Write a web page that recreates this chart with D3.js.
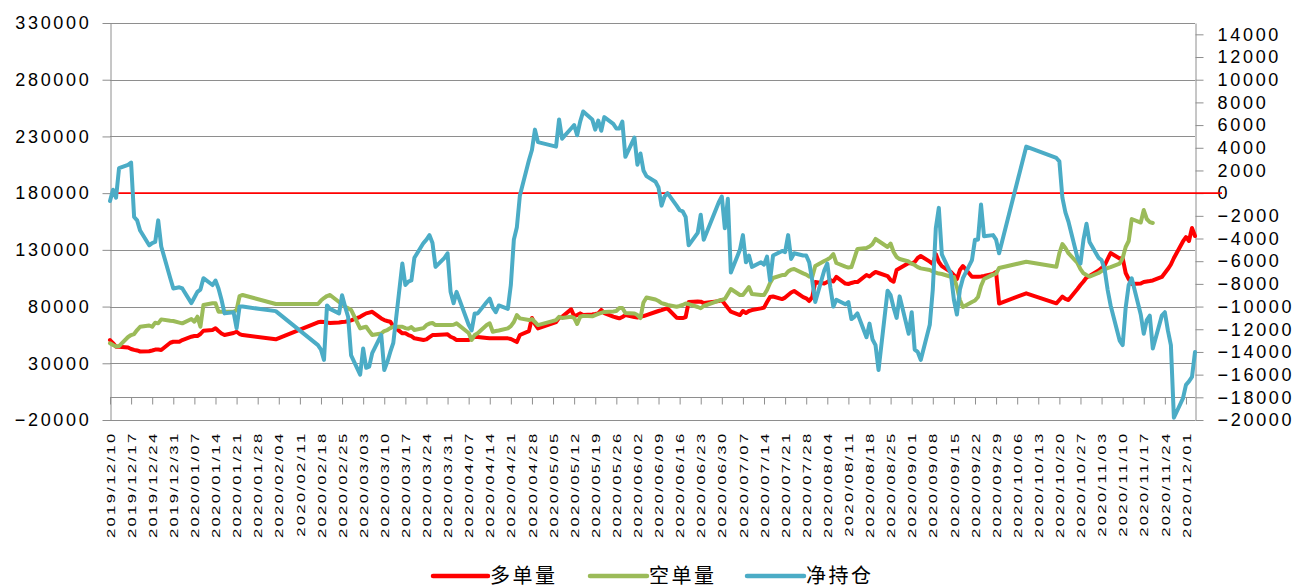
<!DOCTYPE html>
<html>
<head>
<meta charset="utf-8">
<script src="https://cdn.jsdelivr.net/npm/d3@7"></script>
<style>
  html, body { margin: 0; padding: 0; background: #fff; }
  svg { display: block; }
</style>
</head>
<body>
<svg id="chart" width="1296" height="588"></svg>
<script>
// trading days shown in the chart (gaps = no data: Spring Festival, Labour Day, National Day ...)
const dates = [
  "2019-12-10","2019-12-11","2019-12-12","2019-12-13","2019-12-16","2019-12-17","2019-12-18","2019-12-19","2019-12-20","2019-12-23","2019-12-24","2019-12-25","2019-12-26","2019-12-27","2019-12-30","2019-12-31",
  "2020-01-02","2020-01-03","2020-01-06","2020-01-07","2020-01-08","2020-01-09","2020-01-10","2020-01-13","2020-01-14","2020-01-15","2020-01-16","2020-01-17","2020-01-20","2020-01-21","2020-01-22","2020-01-23",
  "2020-02-03","2020-02-17","2020-02-18","2020-02-19","2020-02-20","2020-02-21","2020-02-24","2020-02-25","2020-02-26","2020-02-27","2020-02-28",
  "2020-03-02","2020-03-03","2020-03-04","2020-03-05","2020-03-06","2020-03-09","2020-03-10","2020-03-11","2020-03-12","2020-03-13","2020-03-16","2020-03-17","2020-03-18","2020-03-19","2020-03-20","2020-03-23","2020-03-24","2020-03-25","2020-03-26","2020-03-27","2020-03-30","2020-03-31",
  "2020-04-01","2020-04-02","2020-04-03","2020-04-07","2020-04-08","2020-04-09","2020-04-10","2020-04-13","2020-04-14","2020-04-15","2020-04-16","2020-04-17","2020-04-20","2020-04-21","2020-04-22","2020-04-23","2020-04-24","2020-04-27","2020-04-28","2020-04-29","2020-04-30",
  "2020-05-06","2020-05-07","2020-05-08","2020-05-11","2020-05-12","2020-05-13","2020-05-14","2020-05-15","2020-05-18","2020-05-19","2020-05-20","2020-05-21","2020-05-22","2020-05-25","2020-05-26","2020-05-27","2020-05-28","2020-05-29",
  "2020-06-01","2020-06-02","2020-06-03","2020-06-04","2020-06-05","2020-06-08","2020-06-09","2020-06-10","2020-06-11","2020-06-12","2020-06-15","2020-06-16","2020-06-17","2020-06-18","2020-06-19","2020-06-22","2020-06-23","2020-06-24","2020-06-29","2020-06-30",
  "2020-07-01","2020-07-02","2020-07-03","2020-07-06","2020-07-07","2020-07-08","2020-07-09","2020-07-10","2020-07-13","2020-07-14","2020-07-15","2020-07-16","2020-07-17","2020-07-20","2020-07-21","2020-07-22","2020-07-23","2020-07-24","2020-07-27","2020-07-28","2020-07-29","2020-07-30","2020-07-31",
  "2020-08-03","2020-08-04","2020-08-05","2020-08-06","2020-08-07","2020-08-10","2020-08-11","2020-08-12","2020-08-13","2020-08-14","2020-08-17","2020-08-18","2020-08-19","2020-08-20","2020-08-21","2020-08-24","2020-08-25","2020-08-26","2020-08-27","2020-08-28","2020-08-31",
  "2020-09-01","2020-09-02","2020-09-03","2020-09-04","2020-09-07","2020-09-08","2020-09-09","2020-09-10","2020-09-11","2020-09-14","2020-09-15","2020-09-16","2020-09-17","2020-09-18","2020-09-21","2020-09-22","2020-09-23","2020-09-24","2020-09-25","2020-09-28","2020-09-29","2020-09-30",
  "2020-10-09","2020-10-19","2020-10-20","2020-10-21","2020-10-22","2020-10-23","2020-10-26","2020-10-27","2020-10-28","2020-10-29","2020-10-30",
  "2020-11-02","2020-11-03","2020-11-04","2020-11-05","2020-11-06","2020-11-09","2020-11-10","2020-11-11","2020-11-12","2020-11-13","2020-11-16","2020-11-17","2020-11-18","2020-11-19","2020-11-20","2020-11-23","2020-11-24","2020-11-25","2020-11-26","2020-11-27","2020-11-30",
  "2020-12-01","2020-12-02","2020-12-03","2020-12-04"
];

// 多单量 (left axis)
const longs = [
  50500,47800,44600,44600,43900,42600,41800,41300,40400,40600,41300,42100,42100,41700,48100,49000,
  49000,50500,53400,54000,54000,55800,58700,59300,60800,58400,56200,54900,56700,57800,55800,54900,
  51100,66100,66600,66400,65900,65500,65900,66400,66600,67100,67800,
  71000,72500,74000,74700,75400,69500,68100,67300,66600,62800,56400,56400,54900,54000,52000,50500,51100,53100,54900,54900,55400,55500,
  53400,52300,50500,50500,51800,53400,53100,52300,52000,52000,52000,52000,52000,51400,50100,48700,54900,58400,70000,64600,60800,
  66400,70000,70900,77600,71600,72500,74000,72500,73000,73400,74000,77000,74300,71100,70400,69600,70800,72500,
  70800,70400,71100,71600,72500,75200,76100,76900,77800,78300,70200,69900,69900,70800,84000,84400,84300,83100,84800,85800,
  82200,78700,75500,72500,76100,74300,76100,76900,78400,79100,84000,88400,88900,86600,87900,90200,92400,93700,88400,87300,84900,88400,101600,
  100300,101600,103400,102100,106100,100300,99900,100800,101600,101600,107800,106500,108700,110500,109600,106900,103400,101900,112200,113700,118400,
  118100,119300,122800,124600,119600,117500,126300,119300,115700,110500,107800,104300,112200,115700,106300,106300,106300,106500,106900,108700,110500,82700,
  91700,82900,85800,88700,86700,85800,95500,99000,102100,105600,106900,
  111800,114000,116200,121900,127200,122400,122800,109600,104300,99900,100300,101600,102100,102500,103000,106100,109600,113100,117100,122800,137400,
  141300,137800,149300,142200
];

// 空单量 (left axis)
const shorts = [
  47600,46100,44800,45200,53200,54900,55800,59300,62200,63300,62200,65800,65200,68700,67500,67300,
  65900,65200,69000,66700,71100,62200,81400,82900,82900,75500,75500,75500,75500,77000,89300,90200,
  82300,82300,85300,87500,89300,90200,84000,82900,79900,78500,77000,
  60800,61500,62200,58400,54900,56200,58400,59300,61000,62200,62200,61000,60500,61900,59300,61000,63700,65000,65500,63700,63700,63700,
  63700,64000,65200,56700,50500,54900,56400,63700,65200,57800,58400,58900,60800,62800,66400,72500,69600,68100,69000,66400,63700,
  68100,71000,70000,71000,70100,64600,71000,71800,71400,72500,73600,74500,75300,75700,76100,78700,78700,74300,
  74000,72500,69800,83600,88000,86200,84900,83100,82300,81400,79900,80500,81400,82700,82200,79600,78500,80500,85300,85800,
  86700,91000,95500,90200,90200,93700,97200,91000,90200,90200,94600,100800,105200,107800,107800,110900,112600,113100,109300,108200,106500,106000,115700,
  120200,121500,123200,126300,118400,115200,114400,114800,122800,130800,131600,133000,135100,139600,137800,132500,135600,128100,123700,121900,119700,
  117900,116600,114800,113700,112200,110900,110000,109100,108700,106300,106000,97200,85800,79600,84000,85300,88400,98100,104300,108200,109100,114000,
  119500,115100,127100,135100,131600,127100,118400,113100,109300,107800,106500,
  109600,111300,112600,114000,114800,117900,122800,132500,137800,157200,154100,165100,157200,154500,153700,null,null,null,null,null,null,
  null,null,null,null
];

// 净持仓 (right axis)
const nets = [
  -700,300,-400,2200,2500,2700,-2100,-2400,-3300,-4600,-4400,-4300,-2400,-4700,-7500,-8400,
  -8300,-8400,-9700,-9200,-8700,-8500,-7500,-8100,-7700,-8400,-9400,-10600,-10500,-11900,-10000,-10000,
  -10400,-13400,-13800,-14700,-9900,-10200,-10600,-9000,-10000,-10900,-14300,
  -16000,-13700,-15400,-15300,-14100,-12500,-15600,-14900,-14000,-13200,-6200,-8100,-7800,-7700,-5700,-4400,-4100,-3700,-4400,-6500,-5700,-5300,
  -8700,-9700,-8700,-11600,-12100,-10600,-10600,-9600,-9300,-10100,-10500,-9900,-10200,-8100,-4100,-3000,-200,2900,3800,5600,4500,
  4100,6500,4800,5700,6000,5100,6300,7200,6500,5600,6400,5500,6700,6100,5700,5700,6300,3200,
  4900,2500,3500,2000,1500,1000,500,-1100,-300,0,-1100,-1500,-1600,-2100,-4600,-3500,-1900,-4100,-800,-300,
  -3100,-500,-7000,-5000,-3700,-6100,-5500,-6500,-6100,-6300,-5600,-7700,-5500,-5100,-5200,-3700,-5800,-5300,-5500,-5500,-6100,-7700,-9600,
  -6800,-6200,-8300,-10000,-9400,-9800,-9600,-11100,-10900,-10600,-12700,-11500,-12900,-13400,-15600,-8600,-9000,-10100,-11000,-9100,-12400,
  -10500,-13800,-14000,-14700,-11600,-8500,-3100,-1300,-5400,-7100,-9400,-10700,-8500,-7500,-5900,-4100,-4100,-1000,-3800,-3700,-4100,-5300,
  4100,3100,2800,-400,-1700,-2500,-5700,-6200,-4100,-2700,-4300,
  -5700,-5900,-6700,-8500,-9900,-13000,-13400,-10100,-8100,-7500,-10700,-12400,-11200,-10800,-13700,-10800,-10500,-12100,-13400,-19800,-18100,
  -16900,-16600,-16200,-14000
];

const tickLabels = [
  "2019/12/10","2019/12/17","2019/12/24","2019/12/31","2020/01/07","2020/01/14","2020/01/21","2020/01/28",
  "2020/02/04","2020/02/11","2020/02/18","2020/02/25","2020/03/03","2020/03/10","2020/03/17","2020/03/24",
  "2020/03/31","2020/04/07","2020/04/14","2020/04/21","2020/04/28","2020/05/05","2020/05/12","2020/05/19",
  "2020/05/26","2020/06/02","2020/06/09","2020/06/16","2020/06/23","2020/06/30","2020/07/07","2020/07/14",
  "2020/07/21","2020/07/28","2020/08/04","2020/08/11","2020/08/18","2020/08/25","2020/09/01","2020/09/08",
  "2020/09/15","2020/09/22","2020/09/29","2020/10/06","2020/10/13","2020/10/20","2020/10/27","2020/11/03",
  "2020/11/10","2020/11/17","2020/11/24","2020/12/01"
];
const leftTicks = [-20000, 30000, 80000, 130000, 180000, 230000, 280000, 330000];
const rightTicks = [-20000, -18000, -16000, -14000, -12000, -10000, -8000, -6000, -4000, -2000,
                    0, 2000, 4000, 6000, 8000, 10000, 12000, 14000];

const seriesNames = ["多单量", "空单量", "净持仓"];
const seriesColors = ["#ff0000", "#9bbb59", "#4bacc6"];

// ── layout ────────────────────────────────────────────────────────────────
const X0 = 110, X1 = 1195, Y0 = 23, Y1 = 420;
const AXIS = "#8e8e8e";
const NUM_FONT = "'Liberation Sans', Arial, sans-serif";

const parseDay = d3.timeParse("%Y-%m-%d");
const parseTick = d3.timeParse("%Y/%m/%d");
const days = dates.map(parseDay);

const x = d3.scaleTime().domain([days[0], days[days.length - 1]]).range([X0, X1]);
const yL = d3.scaleLinear().domain([-20000, 330000]).range([Y1, Y0]);
const yR = d3.scaleLinear().domain([-20000, 15000]).range([Y1, Y0]);

const fmt = (d) => (d < 0 ? "\u2212" + Math.abs(d) : String(d));

const svg = d3.select("#chart");

// gridlines
svg.append("g")
  .selectAll("line")
  .data(leftTicks)
  .join("line")
  .attr("x1", X0).attr("x2", X1)
  .attr("y1", (d) => Math.round(yL(d)) + 0.5)
  .attr("y2", (d) => Math.round(yL(d)) + 0.5)
  .attr("stroke", AXIS)
  .attr("stroke-width", 1);

// left axis
const gl = svg.append("g")
  .attr("transform", `translate(${X0 + 0.5},0)`)
  .call(d3.axisLeft(yL).tickValues(leftTicks).tickSize(8).tickSizeOuter(0).tickPadding(11).tickFormat(fmt));

// right axis
const gr = svg.append("g")
  .attr("transform", `translate(${X1 + 0.5},0)`)
  .call(d3.axisRight(yR).tickValues(rightTicks).tickSize(8).tickSizeOuter(0).tickPadding(14).tickFormat(fmt));

for (const g of [gl, gr]) {
  g.select(".domain").attr("stroke", AXIS);
  g.selectAll(".tick line").attr("stroke", AXIS);
  g.selectAll("text")
    .attr("fill", "#000")
    .style("font-family", NUM_FONT)
    .style("font-size", "18px")
    .style("letter-spacing", "2.7px");
}

// category (date) axis, crossing the left axis at 0
const xAxisY = Math.round(yL(0)) + 0.5;
const gx = svg.append("g")
  .attr("transform", `translate(0,${xAxisY})`)
  .call(d3.axisBottom(x)
    .tickValues(tickLabels.map(parseTick))
    .tickSize(7)
    .tickSizeOuter(0)
    .tickFormat(d3.timeFormat("%Y/%m/%d")));
gx.select(".domain").attr("stroke", AXIS).attr("d", `M${X0},0H${X1}`);
gx.selectAll(".tick line").attr("stroke", AXIS);
const sx = 1.45;
gx.selectAll("text")
  .attr("transform", `rotate(-90) scale(${sx},1)`)
  .attr("text-anchor", "end")
  .attr("x", -34 / sx)
  .attr("y", 0)
  .attr("dy", "0.36em")
  .attr("fill", "#000")
  .style("font-family", NUM_FONT)
  .style("font-size", "11.5px")
  .style("letter-spacing", "1.6px");

// red zero line of the net position axis
svg.append("line")
  .attr("x1", 118).attr("x2", 1222)
  .attr("y1", yR(0)).attr("y2", yR(0))
  .attr("stroke", "#ff0000")
  .attr("stroke-width", 1.6);

// series
const rows = days.map((d, i) => ({d, long: longs[i], short: shorts[i], net: nets[i]}));

function drawLine(key, scale, color) {
  const line = d3.line()
    .defined((r) => r[key] != null)
    .x((r) => x(r.d))
    .y((r) => scale(r[key]));
  svg.append("path")
    .datum(rows)
    .attr("d", line)
    .attr("fill", "none")
    .attr("stroke", color)
    .attr("stroke-width", 4)
    .attr("stroke-linejoin", "round")
    .attr("stroke-linecap", "round");
}
drawLine("long", yL, seriesColors[0]);
drawLine("short", yL, seriesColors[1]);
drawLine("net", yR, seriesColors[2]);

// legend
const legendItems = [
  {name: seriesNames[0], color: seriesColors[0], x0: 433, x1: 488},
  {name: seriesNames[1], color: seriesColors[1], x0: 590, x1: 647},
  {name: seriesNames[2], color: seriesColors[2], x0: 747, x1: 804},
];
const lg = svg.append("g");
for (const it of legendItems) {
  lg.append("line")
    .attr("x1", it.x0).attr("x2", it.x1)
    .attr("y1", 576).attr("y2", 576)
    .attr("stroke", it.color)
    .attr("stroke-width", 4.5)
    .attr("stroke-linecap", "round");
  lg.append("text")
    .attr("x", it.x1 + 2)
    .attr("y", 583)
    .attr("fill", "#000")
    .style("font-family", "'Noto Sans CJK SC', sans-serif")
    .style("font-size", "20px")
    .style("letter-spacing", "2.5px")
    .text(it.name);
}
</script>
</body>
</html>
